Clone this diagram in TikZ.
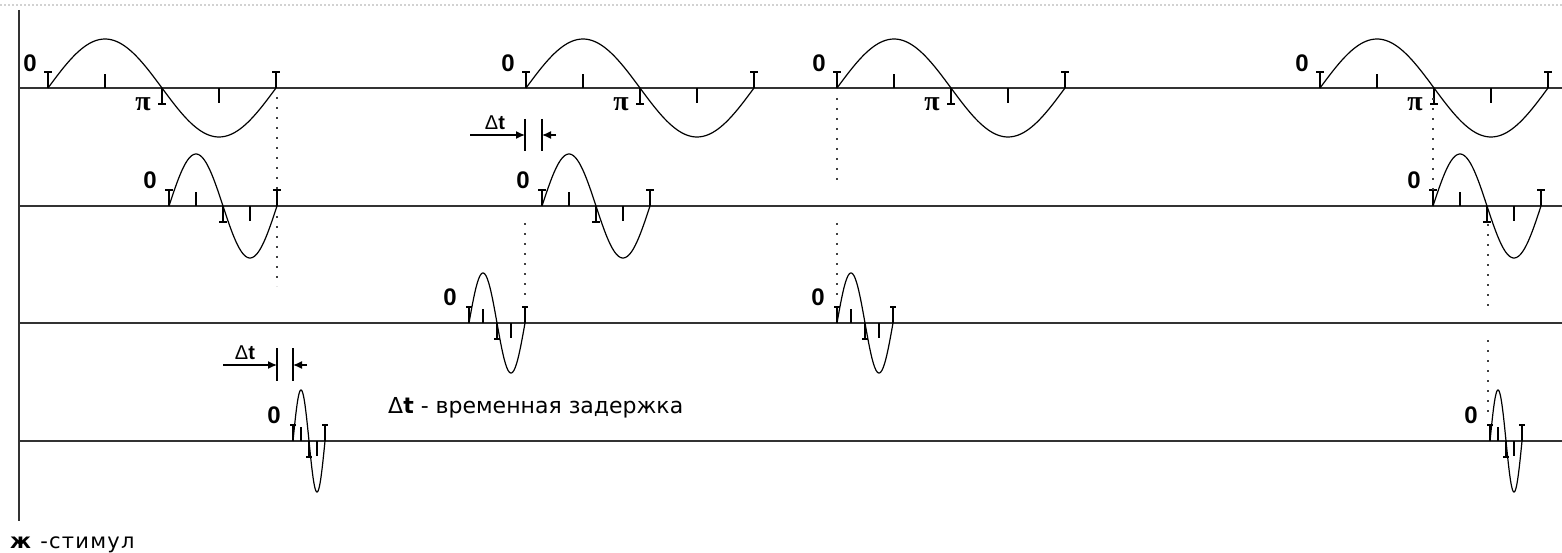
\documentclass[tikz,border=0pt]{standalone}
\usepackage{fontspec}
\setmainfont{Liberation Sans}
\newfontfamily\dvsans{DejaVu Sans}
\newfontfamily\dvsanswide[LetterSpace=6]{DejaVu Sans}
\newfontfamily\lserif{Liberation Serif}
\usetikzlibrary{arrows.meta}
\newcommand\sinwave[4]{% x0, y0, period, amplitude
  \draw[wave] plot[domain=0:1,samples=90,smooth] ({#1+#3*\x},{#2-#4*sin(360*\x)});}
\newcommand\waveticks[4]{% x0, y0, period, bar half-width
  \draw[tick] (#1,#2) -- ++(0,-16) ++(-#4,0) -- ++(2*#4,0);
  \draw[tick] ({#1+#3/4},#2) -- ++(0,-14);
  \draw[tick] ({#1+#3/2},#2) -- ++(0,16) ++(-#4,0) -- ++(2*#4,0);
  \draw[tick] ({#1+3*#3/4},#2) -- ++(0,15);
  \draw[tick] ({#1+#3},#2) -- ++(0,-16) ++(-#4,0) -- ++(2*#4,0);}
\begin{document}
\begin{tikzpicture}[x=1pt,y=-1pt,
  axisline/.style={line width=2pt,draw=black!80},
  wave/.style={line width=1.2pt,line join=round},
  tick/.style={line width=1.4pt},
  guide/.style={line width=1.8pt,draw=black!75,dash pattern=on 1.8pt off 8.2pt},
  zerolab/.style={font=\fontsize{24}{24}\selectfont\bfseries,inner sep=0pt},
  pilab/.style={font=\lserif\fontsize{28}{28}\selectfont\bfseries,inner sep=0pt},
  dtlab/.style={font=\fontsize{20}{20}\selectfont,inner sep=0pt},
  dtarrow/.style={line width=1.4pt,-{Latex[length=9pt,width=8pt]}},
  bar/.style={line width=1.4pt}]
\useasboundingbox (0,0) rectangle (1562,553);
% faint top border
\draw[gray!35,line width=1.2pt,dash pattern=on 1.5pt off 2.5pt] (0,5) -- (1562,5);
% axes
\draw[axisline] (18.5,10) -- (18.5,521);
\foreach \yy in {88,206,323,441} \draw[axisline] (18,\yy) -- (1562,\yy);
% row 1
\foreach \xx in {48,526,837,1320}{
  \sinwave{\xx}{88}{228}{49}
  \waveticks{\xx}{88}{228}{4}
  \node[zerolab] at ({\xx-18},63) {0};
  \node[pilab] at ({\xx+114-19},104) {π};
}
% row 2
\foreach \xx in {169,542,1433}{
  \sinwave{\xx}{206}{108}{52}
  \waveticks{\xx}{206}{108}{4}
  \node[zerolab] at ({\xx-19},180) {0};
}
% row 3
\foreach \xx in {469,837}{
  \sinwave{\xx}{323}{56}{50}
  \waveticks{\xx}{323}{56}{3}
  \node[zerolab] at ({\xx-19},297) {0};
}
% row 4
\foreach \xx in {293,1490}{
  \sinwave{\xx}{441}{32}{51}
  \waveticks{\xx}{441}{32}{3}
  \node[zerolab] at ({\xx-19},415) {0};
}
% guide (dotted) lines
\draw[guide] (277,97) -- (277,192);
\draw[guide] (277,216) -- (277,286);
\draw[guide] (837,98) -- (837,186);
\draw[guide] (837,223) -- (837,300);
\draw[guide] (525,223) -- (525,298);
\draw[guide] (1433,98) -- (1433,190);
\draw[guide] (1488,224) -- (1488,310);
\draw[guide] (1488,340) -- (1488,416);
% delta t markers, upper
\coordinate (a1) at (470,135);
\coordinate (b1) at (525,135);
\coordinate (c1) at (556,135);
\coordinate (d1) at (542,135);
\draw[dtarrow] (a1) -- (b1);
\draw[dtarrow] (c1) -- (d1);
\draw[bar] (525,119) -- (525,151);
\draw[bar] (542,119) -- (542,151);
\node[dtlab] (dt1) at (495,123) {Δ\textbf{t}};
% delta t markers, lower
\coordinate (a2) at (223,365);
\coordinate (b2) at (277,365);
\coordinate (c2) at (307,365);
\coordinate (d2) at (293,365);
\draw[dtarrow] (a2) -- (b2);
\draw[dtarrow] (c2) -- (d2);
\draw[bar] (277,348) -- (277,381);
\draw[bar] (293,348) -- (293,381);
\node[dtlab] (dt2) at (245,353) {Δ\textbf{t}};
% texts
\node[anchor=base west,inner sep=0pt,font=\dvsans\fontsize{22}{22}\selectfont] (legend) at (388,413) {Δ\textbf{t} - временная задержка};
\node[anchor=base west,inner sep=0pt,font=\dvsanswide\fontsize{21}{21}\selectfont] (stim) at (10,548) {\textbf{ж} -стимул};
\end{tikzpicture}
\end{document}
